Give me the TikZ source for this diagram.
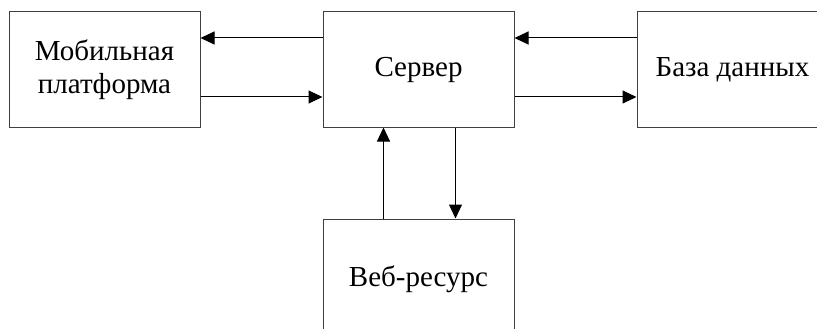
\documentclass[tikz,border=0pt]{standalone}
\usepackage{fontspec}
\setmainfont{Liberation Serif}
\usetikzlibrary{arrows.meta,positioning}

\begin{document}
\begin{tikzpicture}[x=1pt,y=-1pt,
                    >={Triangle[length=14pt,width=13pt]},
                    line width=1pt,node distance=91pt and 122pt]
  \tikzstyle{block}=[draw=black!75,minimum width=191pt,minimum height=115pt,
                     align=center,font=\fontsize{29}{33}\selectfont,inner sep=0pt]
  \tikzstyle{link}=[->,draw=black]

  \clip (0,0) rectangle (817,329);

  \node[block] (mob) at (104.5,69.5)  {Мобильная\\платформа};
  \node[block] (srv) [right=of mob]   {Сервер};
  \node[block] (db)  [right=of srv]   {База данных};
  \node[block,minimum height=120pt] (web) [below=of srv] {Веб-ресурс};

  \draw[link] ([yshift=31.5pt]srv.west) -- ([yshift=31.5pt]mob.east);
  \draw[link] ([yshift=-27.5pt]mob.east) -- ([yshift=-27.5pt]srv.west);
  \draw[link] ([yshift=31.5pt]db.west) -- ([yshift=31.5pt]srv.east);
  \draw[link] ([yshift=-27.5pt]srv.east) -- ([yshift=-27.5pt]db.west);
  \draw[link] ([xshift=-35pt]web.north) -- ([xshift=-35pt]srv.south);
  \draw[link] ([xshift=37pt]srv.south) -- ([xshift=37pt]web.north);
\end{tikzpicture}
\end{document}
